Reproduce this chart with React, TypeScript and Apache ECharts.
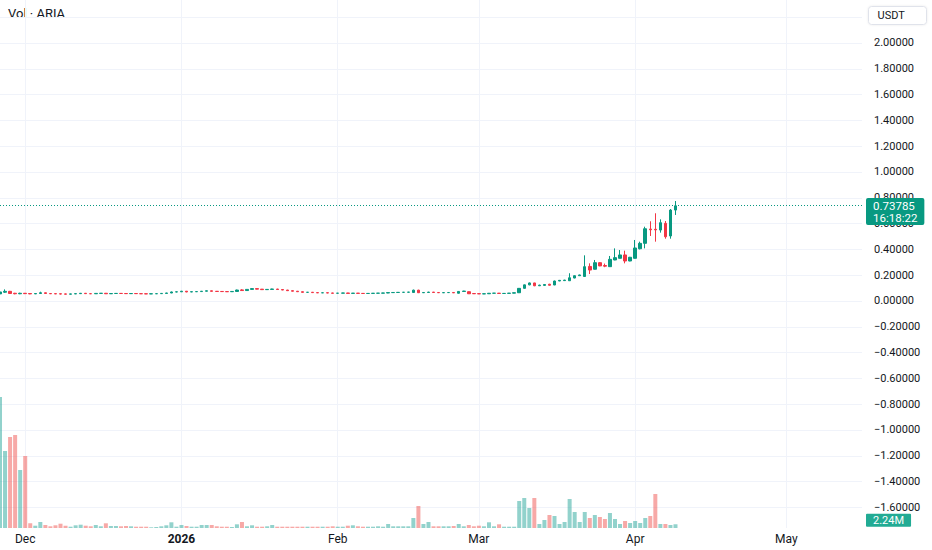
import React, { useEffect, useRef } from "react";
import * as echarts from "echarts";

// ---------- data ----------
const START_DATE = "2025-11-26";
const DAY_COUNT = 172; // 2025-11-26 .. 2026-05-16 (empty future space on the right)

// [open, close, low, high], one row per day from START_DATE
const candles: [number, number, number, number][] = [
  [0.055, 0.070, 0.050, 0.078],
  [0.068, 0.075, 0.062, 0.090],
  [0.075, 0.058, 0.055, 0.078],
  [0.060, 0.056, 0.052, 0.063],
  [0.056, 0.060, 0.053, 0.064],
  [0.060, 0.057, 0.054, 0.062], // Dec 1
  [0.058, 0.055, 0.053, 0.060],
  [0.055, 0.058, 0.054, 0.060],
  [0.058, 0.064, 0.057, 0.072],
  [0.064, 0.058, 0.056, 0.065],
  [0.058, 0.056, 0.055, 0.060],
  [0.057, 0.055, 0.054, 0.059],
  [0.056, 0.054, 0.052, 0.058],
  [0.055, 0.053, 0.052, 0.057],
  [0.053, 0.055, 0.052, 0.056],
  [0.055, 0.057, 0.054, 0.058],
  [0.057, 0.060, 0.056, 0.061],
  [0.060, 0.057, 0.056, 0.061],
  [0.057, 0.056, 0.055, 0.058],
  [0.056, 0.059, 0.055, 0.060],
  [0.059, 0.060, 0.058, 0.061],
  [0.060, 0.056, 0.055, 0.062],
  [0.056, 0.058, 0.055, 0.059],
  [0.058, 0.059, 0.057, 0.060],
  [0.059, 0.058, 0.057, 0.060],
  [0.058, 0.057, 0.056, 0.059],
  [0.057, 0.058, 0.056, 0.059],
  [0.058, 0.057, 0.056, 0.059],
  [0.057, 0.056, 0.055, 0.058],
  [0.056, 0.055, 0.054, 0.057],
  [0.055, 0.056, 0.054, 0.057],
  [0.056, 0.057, 0.055, 0.058],
  [0.057, 0.059, 0.056, 0.060],
  [0.059, 0.062, 0.058, 0.063],
  [0.062, 0.070, 0.061, 0.073],
  [0.070, 0.071, 0.068, 0.073],
  [0.071, 0.076, 0.070, 0.078], // Jan 1
  [0.076, 0.070, 0.068, 0.077],
  [0.070, 0.072, 0.069, 0.073],
  [0.072, 0.073, 0.071, 0.074],
  [0.073, 0.076, 0.072, 0.077],
  [0.076, 0.079, 0.075, 0.080],
  [0.079, 0.075, 0.074, 0.080],
  [0.075, 0.074, 0.073, 0.076],
  [0.074, 0.073, 0.072, 0.075],
  [0.073, 0.072, 0.071, 0.074],
  [0.072, 0.074, 0.071, 0.075],
  [0.074, 0.085, 0.073, 0.088],
  [0.086, 0.081, 0.080, 0.092],
  [0.081, 0.090, 0.080, 0.092],
  [0.090, 0.096, 0.089, 0.099],
  [0.096, 0.092, 0.090, 0.097],
  [0.092, 0.088, 0.087, 0.093],
  [0.088, 0.090, 0.087, 0.091],
  [0.090, 0.093, 0.089, 0.095],
  [0.093, 0.089, 0.088, 0.094],
  [0.089, 0.085, 0.084, 0.090],
  [0.085, 0.080, 0.079, 0.086],
  [0.080, 0.076, 0.075, 0.081],
  [0.076, 0.072, 0.071, 0.077],
  [0.072, 0.067, 0.066, 0.073],
  [0.067, 0.068, 0.066, 0.069],
  [0.068, 0.065, 0.064, 0.069],
  [0.065, 0.063, 0.062, 0.066],
  [0.063, 0.064, 0.062, 0.065],
  [0.064, 0.062, 0.061, 0.065],
  [0.062, 0.060, 0.059, 0.063],
  [0.060, 0.061, 0.059, 0.062], // Feb 1
  [0.061, 0.062, 0.060, 0.063],
  [0.062, 0.059, 0.058, 0.063],
  [0.059, 0.061, 0.058, 0.062],
  [0.061, 0.059, 0.058, 0.062],
  [0.059, 0.058, 0.057, 0.060],
  [0.058, 0.059, 0.057, 0.060],
  [0.059, 0.060, 0.058, 0.061],
  [0.060, 0.061, 0.059, 0.062],
  [0.061, 0.062, 0.060, 0.063],
  [0.062, 0.065, 0.061, 0.067],
  [0.065, 0.066, 0.064, 0.067],
  [0.066, 0.067, 0.065, 0.068],
  [0.067, 0.068, 0.066, 0.069],
  [0.068, 0.069, 0.067, 0.070],
  [0.066, 0.084, 0.065, 0.088],
  [0.084, 0.064, 0.062, 0.087],
  [0.064, 0.066, 0.062, 0.068],
  [0.066, 0.069, 0.065, 0.071],
  [0.069, 0.066, 0.065, 0.070],
  [0.066, 0.064, 0.063, 0.067],
  [0.064, 0.065, 0.063, 0.066],
  [0.065, 0.066, 0.064, 0.067],
  [0.066, 0.063, 0.062, 0.067],
  [0.060, 0.074, 0.058, 0.076],
  [0.074, 0.077, 0.072, 0.079],
  [0.072, 0.056, 0.055, 0.074],
  [0.058, 0.056, 0.055, 0.059],
  [0.057, 0.055, 0.054, 0.058], // Mar 1
  [0.055, 0.056, 0.054, 0.057],
  [0.056, 0.060, 0.055, 0.062],
  [0.060, 0.061, 0.059, 0.062],
  [0.061, 0.058, 0.057, 0.062],
  [0.058, 0.059, 0.057, 0.060],
  [0.059, 0.061, 0.058, 0.062],
  [0.061, 0.064, 0.060, 0.065],
  [0.064, 0.098, 0.063, 0.100],
  [0.098, 0.125, 0.096, 0.127],
  [0.125, 0.140, 0.122, 0.143],
  [0.140, 0.118, 0.115, 0.141],
  [0.118, 0.123, 0.116, 0.126],
  [0.121, 0.128, 0.117, 0.131],
  [0.130, 0.122, 0.120, 0.133],
  [0.124, 0.155, 0.123, 0.158],
  [0.155, 0.160, 0.154, 0.163],
  [0.158, 0.162, 0.156, 0.164],
  [0.157, 0.180, 0.155, 0.215],
  [0.178, 0.196, 0.176, 0.198],
  [0.196, 0.202, 0.195, 0.204],
  [0.190, 0.266, 0.188, 0.354],
  [0.268, 0.240, 0.209, 0.292],
  [0.246, 0.297, 0.244, 0.318],
  [0.297, 0.272, 0.270, 0.300],
  [0.275, 0.270, 0.262, 0.290],
  [0.266, 0.323, 0.264, 0.349],
  [0.318, 0.336, 0.316, 0.408],
  [0.331, 0.357, 0.329, 0.395],
  [0.357, 0.310, 0.292, 0.390],
  [0.310, 0.339, 0.308, 0.342],
  [0.331, 0.411, 0.329, 0.473], // Apr 1
  [0.405, 0.447, 0.400, 0.460],
  [0.447, 0.560, 0.408, 0.576],
  [0.558, 0.552, 0.504, 0.618],
  [0.556, 0.551, 0.460, 0.680],
  [0.550, 0.607, 0.530, 0.633],
  [0.602, 0.498, 0.483, 0.620],
  [0.504, 0.705, 0.483, 0.713],
  [0.705, 0.73785, 0.667, 0.775],
];

// daily volume, millions
const volumes: number[] = [
  78.6, 46.2, 54.6, 55.8, 34.8,
  43.2, 2.82, 1.38, 3.6, 1.8, 1.02, 1.62, 2.58, 1.38, 0.78, 1.62, 1.98, 1.38, 1.02, 1.8,
  1.02, 2.82, 1.2, 1.2, 1.02, 1.2, 1.02, 0.78, 0.78, 0.78, 0.42, 0.6, 1.02, 1.62, 3.42, 0.78,
  1.8, 1.2, 0.78, 0.78, 1.8, 1.8, 1.8, 1.02, 0.78, 0.78, 0.6, 2.22, 3.6, 1.02, 1.62, 0.78,
  0.78, 1.02, 1.8, 0.78, 0.78, 0.78, 0.78, 0.78, 0.78, 0.78, 0.78, 0.78, 0.78, 0.78, 1.02,
  0.78, 0.78, 1.38, 1.62, 1.02, 0.78, 0.78, 0.78, 1.02, 0.78, 2.4, 1.02, 1.02, 1.02, 1.02,
  6.0, 13.2, 2.4, 3.6, 1.02, 1.02, 1.02, 1.02, 1.2, 2.4, 1.02, 1.8, 1.02,
  1.38, 1.02, 3.42, 1.02, 2.22, 0.78, 0.78, 0.78, 16.2, 18.0, 12.0, 18.0, 2.4, 4.8, 7.8,
  7.2, 2.4, 3.6, 17.4, 9.6, 3.6, 9.6, 6.0, 7.8, 6.6, 5.4, 9.0, 5.4, 2.4, 4.2, 3.0,
  4.2, 3.0, 6.0, 7.2, 20.4, 2.4, 2.4, 1.8, 2.24,
];

const SYMBOL_TITLE = "Vol · ARIA";
const CURRENCY = "USDT";
const LAST_PRICE = 0.73785;
const COUNTDOWN = "16:18:22";
const LAST_VOLUME_LABEL = "2.24M";
const MONTHS = ["Jan", "Feb", "Mar", "Apr", "May", "Jun", "Jul", "Aug", "Sep", "Oct", "Nov", "Dec"];

// price axis visible range and labelled range
const PRICE_MIN = -1.7597;
const PRICE_MAX = 2.3333;
const LABEL_LOW = -1.6;
const LABEL_HIGH = 2.0;
const VOLUME_MAX = 90;

// ---------- styles ----------
const FONT = "Roboto, 'Noto Sans', sans-serif";
const TEXT = "#131722";
const GRID = "#f0f3fa";
const UP = "#089981";
const DOWN = "#f23645";
const UP_VOL = "rgba(38,166,154,0.5)";
const DOWN_VOL = "rgba(239,83,80,0.5)";
const VOL_TAG = "#22ab94";

function buildDates(): string[] {
  const out: string[] = [];
  const [y, m, d] = START_DATE.split("-").map(Number);
  for (let i = 0; i < DAY_COUNT; i++) {
    out.push(new Date(Date.UTC(y, m - 1, d + i)).toISOString().slice(0, 10));
  }
  return out;
}

const isMonthStart = (_i: number, v: string) => v.slice(8, 10) === "01";

export default function App() {
  const ref = useRef<HTMLDivElement>(null);

  useEffect(() => {
    if (!ref.current) return;
    const chart = echarts.init(ref.current, null, { renderer: "svg" });
    const dates = buildDates();

    const volData = volumes.map((v, i) => {
      const c = candles[i];
      const up = c ? c[1] >= c[0] : true;
      return { value: v, itemStyle: { color: up ? UP_VOL : DOWN_VOL } };
    });

    chart.setOption({
      animation: false,
      backgroundColor: "#ffffff",
      textStyle: { fontFamily: FONT },
      grid: [
        { left: 0, right: 70, top: 0, height: 528 },
        { left: 0, right: 70, bottom: 22, height: 150 },
      ],
      xAxis: [
        {
          type: "category",
          gridIndex: 0,
          data: dates,
          boundaryGap: false,
          axisLine: { show: false },
          axisTick: { show: false },
          axisLabel: { show: false },
          splitLine: { show: true, interval: isMonthStart, lineStyle: { color: GRID, width: 1 } },
        },
        {
          type: "category",
          gridIndex: 1,
          data: dates,
          boundaryGap: false,
          axisLine: { show: false },
          axisTick: { show: false },
          splitLine: { show: false },
          axisLabel: {
            interval: isMonthStart,
            margin: 5,
            color: TEXT,
            fontSize: 12,
            fontFamily: FONT,
            formatter: (v: string) => {
              const m = Number(v.slice(5, 7));
              return m === 1 ? `{y|${v.slice(0, 4)}}` : MONTHS[m - 1];
            },
            rich: { y: { fontWeight: "bold", fontSize: 12, color: TEXT, fontFamily: FONT } },
          },
        },
      ],
      yAxis: [
        {
          type: "value",
          gridIndex: 0,
          position: "right",
          min: PRICE_MIN,
          max: PRICE_MAX,
          splitNumber: 20,
          axisLine: { show: false },
          axisTick: { show: false },
          axisLabel: {
            color: TEXT,
            fontSize: 11,
            margin: 12,
            fontFamily: FONT,
            formatter: (v: number) => {
              if (v > LABEL_HIGH + 1e-6 || v < LABEL_LOW - 1e-6) return "";
              const s = Math.abs(v).toFixed(5);
              return v < -1e-9 ? "\u2212" + s : s;
            },
          },
          splitLine: { show: true, showMinLine: false, showMaxLine: false, lineStyle: { color: GRID, width: 1 } },
        },
        {
          type: "value",
          gridIndex: 1,
          min: 0,
          max: VOLUME_MAX,
          show: false,
          splitLine: { show: false },
        },
      ],
      series: [
        {
          type: "candlestick",
          xAxisIndex: 0,
          yAxisIndex: 0,
          barWidth: 3,
          data: candles.map((c) => [c[0], c[1], c[2], c[3]]),
          itemStyle: { color: UP, color0: DOWN, borderColor: UP, borderColor0: DOWN, borderWidth: 1 },
          markLine: {
            silent: true,
            symbol: ["none", "none"],
            lineStyle: { color: UP, type: [1, 2], width: 1 },
            label: {
              show: true,
              position: "end",
              distance: 4,
              offset: [0, 6],
              formatter: `${LAST_PRICE.toFixed(5)}\n${COUNTDOWN}`,
              backgroundColor: UP,
              color: "#ffffff",
              fontSize: 11.5,
              lineHeight: 12,
              fontFamily: FONT,
              padding: [2, 7, 1, 7],
              borderRadius: 2,
            },
            data: [{ yAxis: LAST_PRICE }],
          },
          z: 3,
        },
        {
          type: "bar",
          xAxisIndex: 1,
          yAxisIndex: 1,
          barWidth: 4,
          data: volData,
          markLine: {
            silent: true,
            symbol: ["none", "none"],
            lineStyle: { width: 0, color: "rgba(0,0,0,0)" },
            label: {
              show: true,
              position: "end",
              distance: 4,
              offset: [0, -4],
              formatter: LAST_VOLUME_LABEL,
              backgroundColor: VOL_TAG,
              color: "#ffffff",
              fontSize: 11,
              fontFamily: FONT,
              padding: [1, 7, 1, 7],
              borderRadius: 1,
            },
            data: [{ yAxis: volumes[volumes.length - 1] }],
          },
        },
      ],
      graphic: [
        {
          type: "text",
          left: 8,
          top: 7,
          style: { text: SYMBOL_TITLE, fill: TEXT, fontSize: 13, fontFamily: FONT },
        },
        {
          type: "group",
          right: 5,
          top: 6,
          children: [
            {
              type: "rect",
              shape: { x: 0, y: 0, width: 58, height: 18, r: 3 },
              style: { fill: "#ffffff", stroke: "#e0e3eb", lineWidth: 1, shadowBlur: 2, shadowColor: "rgba(0,0,0,0.08)" },
            },
            {
              type: "text",
              x: 9,
              y: 3,
              style: { text: CURRENCY, fill: TEXT, fontSize: 11, fontFamily: FONT },
            },
          ],
        },
      ],
    });

    return () => chart.dispose();
  }, []);

  return (
    <div
      ref={ref}
      style={{ position: "fixed", left: 0, top: 0, width: 932, height: 550, background: "#fff" }}
    />
  );
}
